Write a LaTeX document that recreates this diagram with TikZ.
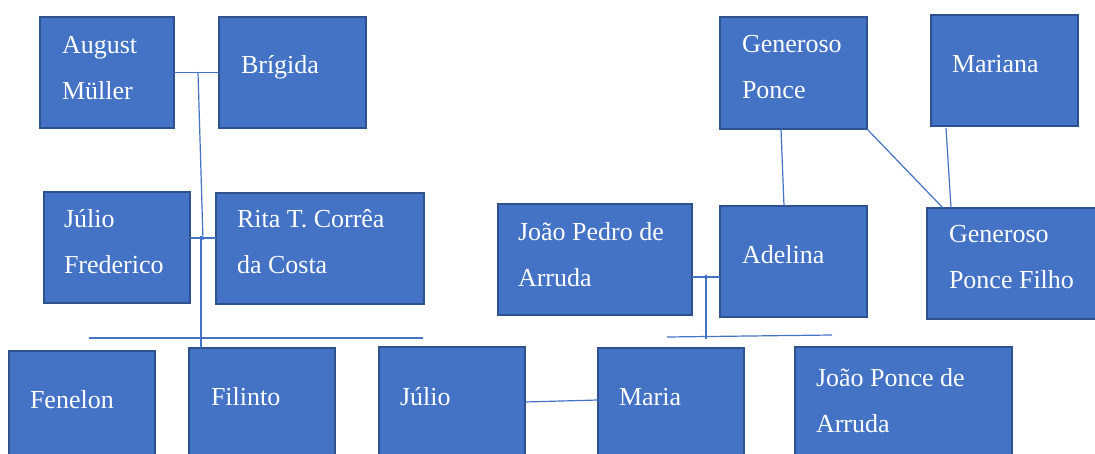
\documentclass[tikz,border=0pt]{standalone}
\usepackage{fontspec}
\setmainfont{Liberation Serif}
\definecolor{boxfill}{HTML}{4472C4}
\definecolor{boxline}{HTML}{2F528F}
\definecolor{linkc}{HTML}{4472C4}
\begin{document}
\begin{tikzpicture}[x=1pt,y=-1pt,
  person/.style={draw=boxline,fill=boxfill,line width=2pt,rectangle,inner sep=0pt,outer sep=0pt},
  pname/.style={text=white,anchor=base west,inner sep=0pt,outer sep=0pt,align=left,font=\fontsize{26}{46}\selectfont},
  link/.style={draw=linkc,line width=1.2pt}]
\useasboundingbox (0,0) rectangle (1095,454);
\clip (0,0) rectangle (1095,454);
\fill[white] (0,0) rectangle (1095,454);
% boxes
\node[person,minimum width=134pt,minimum height=111pt] (aug) at (107,72.5) {};
\node[person,minimum width=147pt,minimum height=111pt] (brig) at (292.5,72.5) {};
\node[person,minimum width=146pt,minimum height=111pt] (jf) at (117,247.5) {};
\node[person,minimum width=208pt,minimum height=111pt] (rita) at (320,248.5) {};
\node[person,minimum width=146pt,minimum height=119pt] (fen) at (82,410.5) {};
\node[person,minimum width=146pt,minimum height=122pt] (fil) at (262,409) {};
\node[person,minimum width=146pt,minimum height=123pt] (jul) at (452,408.5) {};
\node[person,minimum width=146pt,minimum height=122pt] (maria) at (671,409) {};
\node[person,minimum width=217pt,minimum height=123pt] (jpa) at (903.5,408.5) {};
\node[person,minimum width=147pt,minimum height=112pt] (gp) at (793.5,73) {};
\node[person,minimum width=147pt,minimum height=111pt] (mar) at (1004.5,70.5) {};
\node[person,minimum width=194pt,minimum height=111pt] (jp) at (595,259.5) {};
\node[person,minimum width=147pt,minimum height=111pt] (ade) at (793.5,261.5) {};
\node[person,minimum width=183pt,minimum height=111pt] (gpf) at (1018.5,263.5) {};
% texts (base anchor = baseline of last line)
\node[pname] (taug) at (62,100) {August\\Müller};
\node[pname] (tbrig) at (241,74) {Brígida};
\node[pname] (tjf) at (64,274) {Júlio\\Frederico};
\node[pname] (trita) at (237,274) {Rita T. Corrêa\\da Costa};
\node[pname] (tfen) at (30,408) {Fenelon};
\node[pname] (tfil) at (211,405) {Filinto};
\node[pname] (tjul) at (400,405) {Júlio};
\node[pname] (tmaria) at (619,405) {Maria};
\node[pname] (tjpa) at (816,432) {João Ponce de\\Arruda};
\node[pname] (tgp) at (742,99) {Generoso\\Ponce};
\node[pname] (tmar) at (952,73) {Mariana};
\node[pname] (tjp) at (518,287) {João Pedro de\\Arruda};
\node[pname] (tade) at (742,264) {Adelina};
\node[pname] (tgpf) at (949,289) {Generoso\\Ponce Filho};
% helper coordinates
\coordinate (m1) at (198,72);
\coordinate (m1b) at (203,240);
\coordinate (m2) at (201,236);
\coordinate (filtop) at (201,348);
\coordinate (s1l) at (89,338);
\coordinate (s1r) at (423,338);
\coordinate (jfr) at (190,238);
\coordinate (ritl) at (216,238);
\coordinate (gpb) at (781,129);
\coordinate (adet) at (784,206);
\coordinate (gpfa) at (943,208);
\coordinate (marb) at (946,128);
\coordinate (gpfb) at (951,208);
\coordinate (jpr) at (692,277);
\coordinate (adel) at (720,277);
\coordinate (m3) at (706,275);
\coordinate (m3b) at (706,339);
\coordinate (s2l) at (667,337);
\coordinate (s2r) at (832,335);
\coordinate (julr) at (525,402);
\coordinate (marl) at (598,400);
% connectors
\draw[link] (aug.east) -- (brig.west);
\draw[link] (m1) -- (m1b);
\draw[link] (m2) -- (filtop);
\draw[link] (jfr) -- (ritl);
\draw[link] (s1l) -- (s1r);
\draw[link] (gpb) -- (adet);
\draw[link] (gp.south east) -- (gpfa);
\draw[link] (marb) -- (gpfb);
\draw[link] (jpr) -- (adel);
\draw[link] (m3) -- (m3b);
\draw[link] (s2l) -- (s2r);
\draw[link] (julr) -- (marl);
\end{tikzpicture}
\end{document}
